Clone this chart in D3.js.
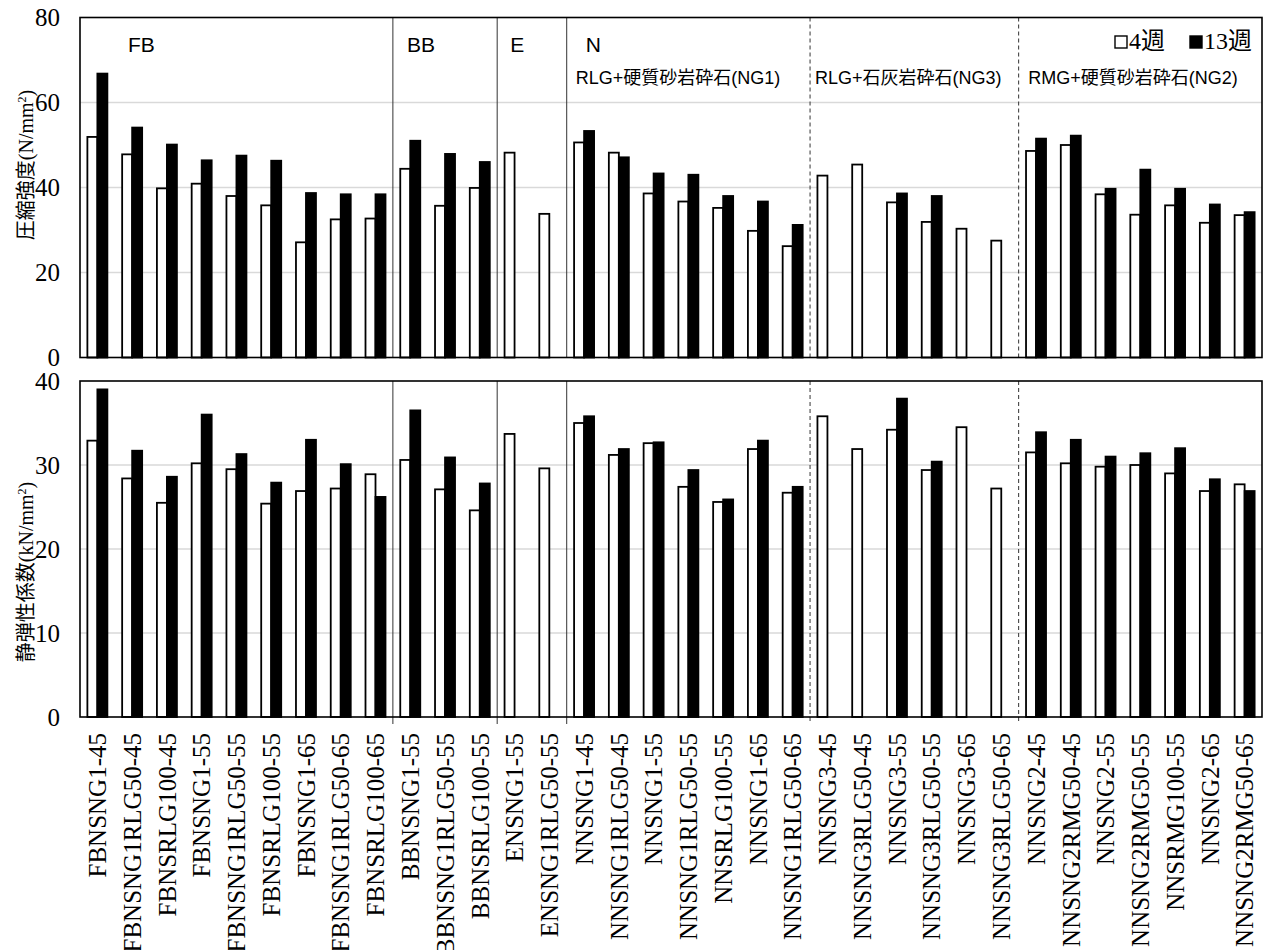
<!DOCTYPE html>
<html><head><meta charset="utf-8">
<script src="https://cdn.jsdelivr.net/npm/d3@7"></script>
<style>body{margin:0;background:#fff;} svg{display:block;}</style>
</head><body><svg id="c" width="1266" height="950"></svg>
<script>
const categories = [
  "FBNSNG1-45","FBNSNG1RLG50-45","FBNSRLG100-45","FBNSNG1-55","FBNSNG1RLG50-55","FBNSRLG100-55","FBNSNG1-65","FBNSNG1RLG50-65","FBNSRLG100-65",
  "BBNSNG1-55","BBNSNG1RLG50-55","BBNSRLG100-55",
  "ENSNG1-55","ENSNG1RLG50-55",
  "NNSNG1-45","NNSNG1RLG50-45","NNSNG1-55","NNSNG1RLG50-55","NNSRLG100-55","NNSNG1-65","NNSNG1RLG50-65",
  "NNSNG3-45","NNSNG3RLG50-45","NNSNG3-55","NNSNG3RLG50-55","NNSNG3-65","NNSNG3RLG50-65",
  "NNSNG2-45","NNSNG2RMG50-45","NNSNG2-55","NNSNG2RMG50-55","NNSRMG100-55","NNSNG2-65","NNSNG2RMG50-65"
];
const strength4 = [51.9,47.8,39.8,40.9,38.0,35.8,27.1,32.5,32.7, 44.4,35.7,39.9, 48.2,33.8, 50.6,48.2,38.6,36.7,35.2,29.8,26.2, 42.8,45.4,36.5,31.9,30.3,27.5, 48.6,50.0,38.4,33.6,35.8,31.7,33.5];
const strength13 = [66.8,54.1,50.1,46.4,47.5,46.3,38.7,38.4,38.4, 51.0,47.9,46.0, null,null, 53.3,47.1,43.3,43.0,38.0,36.7,31.2, null,null,38.6,38.0,null,null, 51.5,52.2,39.7,44.2,39.7,36.0,34.2];
const modulus4 = [32.9,28.4,25.5,30.2,29.5,25.4,26.9,27.2,28.9, 30.6,27.1,24.6, 33.7,29.6, 35.0,31.2,32.6,27.4,25.6,31.9,26.7, 35.8,31.9,34.2,29.4,34.5,27.2, 31.5,30.2,29.8,30.0,29.0,26.9,27.7];
const modulus13 = [39.0,31.7,28.6,36.0,31.3,27.9,33.0,30.1,26.2, 36.5,30.9,27.8, null,null, 35.8,31.9,32.7,29.4,25.9,32.9,27.4, null,null,37.9,30.4,null,null, 33.9,33.0,31.0,31.4,32.0,28.3,26.9];
const strengthTicks = [0,20,40,60,80];
const modulusTicks = [0,10,20,30,40];
const seriesNames = ["4週","13週"];
const groupLabels = ["FB","BB","E","N"];
const groupStarts = [0,9,12,14];
const subgroupLabels = ["RLG+硬質砂岩砕石(NG1)","RLG+石灰岩砕石(NG3)","RMG+硬質砂岩砕石(NG2)"];
const subgroupStarts = [14,21,27];
const solidDividers = [9,12,14];
const dashedDividers = [21,27];

const svg = d3.select("#c");
const L = 80, R = 1262;
const serif = "'Liberation Serif','Times New Roman','Noto Sans CJK JP',serif";
const sans = "'Liberation Sans',Arial,'Noto Sans CJK JP',sans-serif";

const x0 = d3.scaleBand().domain(categories).range([L, R]).padding(0);
const bw = x0.bandwidth();
const barW = 10;
const x1 = d3.scaleBand().domain(seriesNames).range([0, bw]).paddingInner(0).paddingOuter((bw / barW - 2) / 2);

const panels = [
  {top: 17.5, bot: 357.5, max: 80, ticks: strengthTicks, v: [strength4, strength13], title: ["圧縮強度(N/mm", ")"], titleY: 165, tickExt: 0},
  {top: 381, bot: 717, max: 40, ticks: modulusTicks, v: [modulus4, modulus13], title: ["静弾性係数(kN/mm", ")"], titleY: 572, tickExt: 7}
];

panels.forEach(p => {
  const y = d3.scaleLinear().domain([0, p.max]).range([p.bot, p.top]);
  const g = svg.append("g");
  g.selectAll(".grid").data(p.ticks.filter(t => t > 0 && t < p.max)).join("line")
    .attr("x1", L).attr("x2", R).attr("y1", d => y(d)).attr("y2", d => y(d))
    .attr("stroke", "#d9d9d9").attr("stroke-width", 1.5);
  g.selectAll(".sd").data(solidDividers).join("line")
    .attr("x1", d => x0(categories[d])).attr("x2", d => x0(categories[d]))
    .attr("y1", p.top).attr("y2", p.bot + p.tickExt)
    .attr("stroke", "#333").attr("stroke-width", 1);
  g.selectAll(".dd").data(dashedDividers).join("line")
    .attr("x1", d => x0(categories[d])).attr("x2", d => x0(categories[d]))
    .attr("y1", p.top).attr("y2", p.bot + p.tickExt)
    .attr("stroke", "#333").attr("stroke-width", 1).attr("stroke-dasharray", "4,3");
  seriesNames.forEach((s, si) => {
    const data = categories.map((c, i) => ({c, v: p.v[si][i]})).filter(d => d.v != null);
    g.selectAll(".b" + si).data(data).join("rect")
      .attr("x", d => x0(d.c) + x1(s))
      .attr("width", x1.bandwidth())
      .attr("y", d => y(d.v))
      .attr("height", d => y(0) - y(d.v))
      .attr("fill", si === 0 ? "#fff" : "#000")
      .attr("stroke", "#000").attr("stroke-width", 1.8);
  });
  g.append("rect").attr("x", L).attr("y", p.top).attr("width", R - L).attr("height", p.bot - p.top)
    .attr("fill", "none").attr("stroke", "#000").attr("stroke-width", 1.6);
  g.selectAll(".tl").data(p.ticks).join("text")
    .attr("x", 60).attr("y", d => y(d)).attr("dy", "0.35em")
    .attr("text-anchor", "end").attr("font-family", serif).attr("font-size", 25)
    .text(d => d);
  const t = g.append("text")
    .attr("transform", `translate(33,${p.titleY}) rotate(-90)`)
    .attr("text-anchor", "middle").attr("font-family", serif).attr("font-size", 20);
  t.append("tspan").text(p.title[0]);
  t.append("tspan").attr("baseline-shift", "super").attr("font-size", 12).text("2");
  t.append("tspan").text(p.title[1]);
});

const groupOffsets = [48, 14, 13, 19];
svg.selectAll(".gl").data(groupLabels).join("text")
  .attr("x", (d, i) => x0(categories[groupStarts[i]]) + groupOffsets[i])
  .attr("y", 52)
  .attr("font-family", sans).attr("font-size", 21)
  .text(d => d);
const subOffsets = [9, 5, 9.5];
svg.selectAll(".sl").data(subgroupLabels).join("text")
  .attr("x", (d, i) => x0(categories[subgroupStarts[i]]) + subOffsets[i])
  .attr("y", 84)
  .attr("font-family", sans).attr("font-size", 18)
  .text(d => d);

const legX = [1115, 1190];
seriesNames.forEach((s, i) => {
  svg.append("rect").attr("x", legX[i]).attr("y", 36).attr("width", 12).attr("height", 12)
    .attr("fill", i === 0 ? "#fff" : "#000").attr("stroke", "#000").attr("stroke-width", 1.4);
  svg.append("text").attr("x", legX[i] + 14).attr("y", 49)
    .attr("font-family", serif).attr("font-size", 24).text(s);
});

svg.selectAll(".xl").data(categories).join("text")
  .attr("transform", d => `translate(${x0(d) + bw / 2},733) rotate(-90)`)
  .attr("text-anchor", "end").attr("dy", "0.35em")
  .attr("font-family", serif).attr("font-size", 25)
  .text(d => d);
</script>
</body></html>
